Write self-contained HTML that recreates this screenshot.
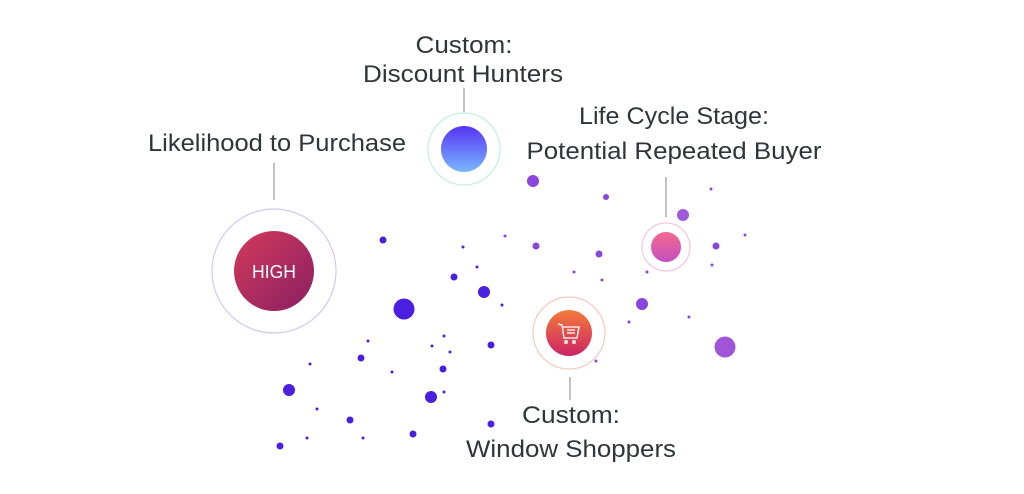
<!DOCTYPE html>
<html><head><meta charset="utf-8"><style>
html,body{margin:0;padding:0;background:#fff;}
svg{display:block}
text{font-family:"Liberation Sans",sans-serif;fill:#30343b;font-size:24px;text-anchor:middle}
</style></head><body>
<svg width="1024" height="494" viewBox="0 0 1024 494" xmlns="http://www.w3.org/2000/svg">
<defs>
<linearGradient id="gh" x1="0" y1="0" x2="1" y2="1"><stop offset="0" stop-color="#d23a5a"/><stop offset="1" stop-color="#8a1f63"/></linearGradient>
<linearGradient id="gb" x1="0" y1="0" x2="0" y2="1"><stop offset="0" stop-color="#5533f5"/><stop offset="1" stop-color="#7ab8ff"/></linearGradient>
<linearGradient id="gp" x1="0" y1="0" x2="0" y2="1"><stop offset="0" stop-color="#f56a8f"/><stop offset="1" stop-color="#c34fc0"/></linearGradient>
<linearGradient id="gc" x1="0" y1="0" x2="0" y2="1"><stop offset="0" stop-color="#f47b3a"/><stop offset="1" stop-color="#cc2464"/></linearGradient>
</defs>
<g stroke="#999" stroke-width="1.2">
<line x1="274" y1="163" x2="274" y2="200"/>
<line x1="464" y1="88" x2="464" y2="112"/>
<line x1="666" y1="177" x2="666" y2="217"/>
<line x1="570" y1="377" x2="570" y2="400"/>
</g>
<text x="277" y="151" textLength="258" lengthAdjust="spacingAndGlyphs">Likelihood to Purchase</text>
<text x="464" y="53" textLength="97" lengthAdjust="spacingAndGlyphs">Custom:</text>
<text x="463" y="82" textLength="200" lengthAdjust="spacingAndGlyphs">Discount Hunters</text>
<text x="674" y="124" textLength="190" lengthAdjust="spacingAndGlyphs">Life Cycle Stage:</text>
<text x="674" y="159" textLength="295" lengthAdjust="spacingAndGlyphs">Potential Repeated Buyer</text>
<text x="571" y="423" textLength="98" lengthAdjust="spacingAndGlyphs">Custom:</text>
<text x="571" y="457" textLength="210" lengthAdjust="spacingAndGlyphs">Window Shoppers</text>

<circle cx="274" cy="271" r="62" fill="none" stroke="#d6c6f0" stroke-width="1.2"/>
<circle cx="274" cy="271" r="40" fill="url(#gh)"/>
<text x="274" y="278" textLength="44" lengthAdjust="spacingAndGlyphs" style="fill:#fff;font-size:18px">HIGH</text>

<circle cx="464" cy="149" r="36" fill="none" stroke="#bff0e0" stroke-width="1.2"/>
<circle cx="464" cy="149" r="23" fill="url(#gb)"/>

<circle cx="666" cy="247" r="24" fill="none" stroke="#f2c6e0" stroke-width="1.2"/>
<circle cx="666" cy="247" r="15" fill="url(#gp)"/>

<circle cx="569" cy="333" r="36" fill="none" stroke="#f8c8c0" stroke-width="1.2"/>
<circle cx="569" cy="333" r="23" fill="url(#gc)"/>
<g stroke="#fff" stroke-width="1.3" fill="none">
<path d="M558 324 L562 325 L564 338 L577 338 L579 327 L563 327"/>
<line x1="567" y1="330" x2="575" y2="330"/><line x1="567" y1="333" x2="575" y2="333"/>
<circle cx="566" cy="342" r="1.3"/><circle cx="574" cy="342" r="1.3"/>
</g>

<g fill="#8a45dd">
<circle cx="533" cy="181" r="6"/><circle cx="606" cy="197" r="3"/><circle cx="711" cy="189" r="1.5"/>
<circle cx="683" cy="215" r="6" fill="#a05ad8"/><circle cx="745" cy="235" r="1.5"/><circle cx="716" cy="246" r="3.5"/>
<circle cx="712" cy="265" r="1.5"/><circle cx="536" cy="246" r="3.5"/><circle cx="599" cy="254" r="3.5"/>
<circle cx="574" cy="272" r="1.5"/><circle cx="647" cy="272" r="1.5"/><circle cx="642" cy="304" r="6"/>
<circle cx="629" cy="322" r="1.5"/><circle cx="689" cy="317" r="1.5"/><circle cx="725" cy="347" r="10.5" fill="#a055d8"/>
<circle cx="602" cy="280" r="1.5"/><circle cx="596" cy="361" r="1.5"/><circle cx="505" cy="236" r="1.5"/>
</g>
<g fill="#4a1fe0">
<circle cx="383" cy="240" r="3.5"/><circle cx="463" cy="247" r="1.5"/><circle cx="454" cy="277" r="3.5"/>
<circle cx="477" cy="267" r="1.5"/><circle cx="484" cy="292" r="6"/><circle cx="404" cy="309" r="10.5"/>
<circle cx="502" cy="305" r="1.5"/>
<circle cx="368" cy="341" r="1.5"/><circle cx="444" cy="336" r="1.5"/><circle cx="432" cy="346" r="1.5"/>
<circle cx="491" cy="345" r="3.5"/><circle cx="361" cy="358" r="3.5"/><circle cx="310" cy="364" r="1.5"/>
<circle cx="450" cy="352" r="1.5"/><circle cx="443" cy="369" r="3.5"/><circle cx="392" cy="372" r="1.5"/>
<circle cx="289" cy="390" r="6"/><circle cx="431" cy="397" r="6"/><circle cx="444" cy="392" r="1.5"/>
<circle cx="317" cy="409" r="1.5"/><circle cx="350" cy="420" r="3.5"/><circle cx="491" cy="424" r="3.5"/>
<circle cx="413" cy="434" r="3.5"/><circle cx="307" cy="438" r="1.5"/><circle cx="363" cy="438" r="1.5"/>
<circle cx="280" cy="446" r="3.5"/>
</g>
</svg>
</body></html>
